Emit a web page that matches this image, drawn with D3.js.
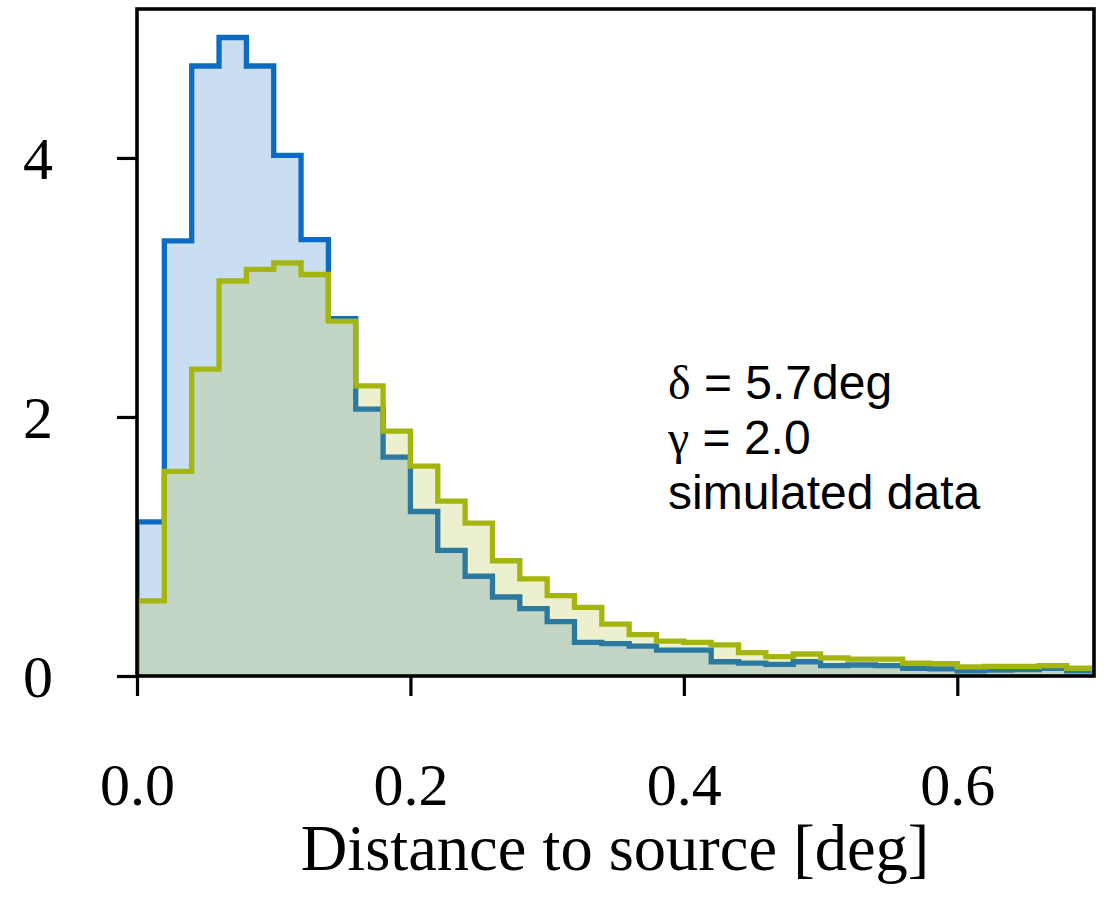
<!DOCTYPE html>
<html lang="en">
<head>
<meta charset="utf-8">
<title>Distance to source histogram</title>
<script src="https://d3js.org/d3.v7.min.js"></script>
<style>
  html, body { margin: 0; padding: 0; background: #fff; }
  svg { display: block; }
  .tick text { font-family: "Liberation Serif", "Times New Roman", serif; }
</style>
</head>
<body>
<script>
// bin width 0.02 deg, 35 bins from 0.0 to 0.7
var binWidth = 0.02;
var blueValues = [1.19, 3.36, 4.71, 4.93, 4.71, 4.02, 3.37, 2.76, 2.06, 1.69,
                  1.27, 0.97, 0.77, 0.61, 0.52, 0.42, 0.26, 0.25, 0.23, 0.20,
                  0.20, 0.11, 0.10, 0.09, 0.11, 0.08, 0.085, 0.08, 0.06, 0.055,
                  0.04, 0.045, 0.05, 0.06, 0.04];
var greenValues = [0.58, 1.58, 2.37, 3.05, 3.14, 3.19, 3.10, 2.74, 2.24, 1.89,
                   1.62, 1.35, 1.18, 0.89, 0.75, 0.62, 0.53, 0.40, 0.32, 0.27,
                   0.26, 0.24, 0.18, 0.15, 0.17, 0.14, 0.13, 0.13, 0.10, 0.095,
                   0.07, 0.075, 0.075, 0.08, 0.06];
var xTicks = [0.0, 0.2, 0.4, 0.6];
var yTicks = [0, 2, 4];
var annotation = [["δ", " = 5.7deg"], ["γ", " = 2.0"], ["", "simulated data"]];

var W = 1107, H = 899;
var margin = {top: 9, right: 13, bottom: 223, left: 137};
var width = W - margin.left - margin.right;
var height = H - margin.top - margin.bottom;

var svg = d3.select('body').append('svg')
    .attr('width', W)
    .attr('height', H);

var g = svg.append('g')
    .attr('transform', 'translate(' + margin.left + ',' + margin.top + ')');

var x = d3.scaleLinear().domain([0, 0.7]).range([0, width]);
var y = d3.scaleLinear().domain([0, 5.15]).range([height, 0]);

g.append('clipPath').attr('id', 'clip')
    .append('rect').attr('width', width).attr('height', height);

function stepPoints(vals) {
    var pts = [[0, 0]];
    vals.forEach(function(v, i) { pts.push([i * binWidth, v]); });
    pts.push([vals.length * binWidth, vals[vals.length - 1]]);
    pts.push([vals.length * binWidth, 0]);
    return pts;
}

var area = d3.area()
    .x(function(d) { return x(d[0]); })
    .y0(y(0))
    .y1(function(d) { return y(d[1]); })
    .curve(d3.curveStepAfter);
var line = d3.line()
    .x(function(d) { return x(d[0]); })
    .y(function(d) { return y(d[1]); })
    .curve(d3.curveStepAfter);

var series = [
    {vals: blueValues, stroke: '#0e6bc4', fill: 'rgba(14,107,196,0.22)'},
    {vals: greenValues, stroke: '#a4b60e', fill: 'rgba(164,182,14,0.2)'}
];

var plot = g.append('g').attr('clip-path', 'url(#clip)');
series.forEach(function(s) {
    var pts = stepPoints(s.vals);
    plot.append('path').attr('d', area(pts)).attr('fill', s.fill);
    plot.append('path').attr('d', line(pts))
        .attr('fill', 'none')
        .attr('stroke', s.stroke)
        .attr('stroke-width', 5.3)
        .attr('stroke-linejoin', 'miter');
});

// axes
var xAxis = g.append('g')
    .attr('transform', 'translate(0,' + height + ')')
    .call(d3.axisBottom(x).tickValues(xTicks).tickFormat(d3.format('.1f'))
        .tickSize(20).tickPadding(66));
var yAxis = g.append('g')
    .call(d3.axisLeft(y).tickValues(yTicks).tickFormat(d3.format('d'))
        .tickSize(20).tickPadding(64));
[xAxis, yAxis].forEach(function(a) {
    a.select('.domain').remove();
    a.selectAll('.tick line').attr('stroke', '#000').attr('stroke-width', 3.2);
    a.selectAll('.tick text').attr('fill', '#000').style('font-size', '60px');
});
yAxis.selectAll('.tick text').attr('dy', '0.34em');

// frame
g.append('rect')
    .attr('width', width).attr('height', height)
    .attr('fill', 'none').attr('stroke', '#000').attr('stroke-width', 3.6);

// x label
svg.append('text')
    .attr('x', 615).attr('y', 870)
    .attr('text-anchor', 'middle')
    .style('font-family', '"Liberation Serif", serif')
    .style('font-size', '64.5px')
    .text('Distance to source [deg]');

// annotation
var ann = svg.append('text')
    .attr('x', 668).attr('y', 399)
    .style('font-family', '"Liberation Sans", Arial, sans-serif')
    .style('font-size', '48px')
    .attr('fill', '#000');
annotation.forEach(function(row, i) {
    var t = ann.append('tspan').attr('x', 668).attr('dy', i === 0 ? 0 : 55);
    if (row[0]) {
        t.append('tspan').style('font-family', '"Liberation Serif", serif').text(row[0]);
        ann.append('tspan').text(row[1]);
    } else {
        t.text(row[1]);
    }
});
</script>
</body>
</html>
